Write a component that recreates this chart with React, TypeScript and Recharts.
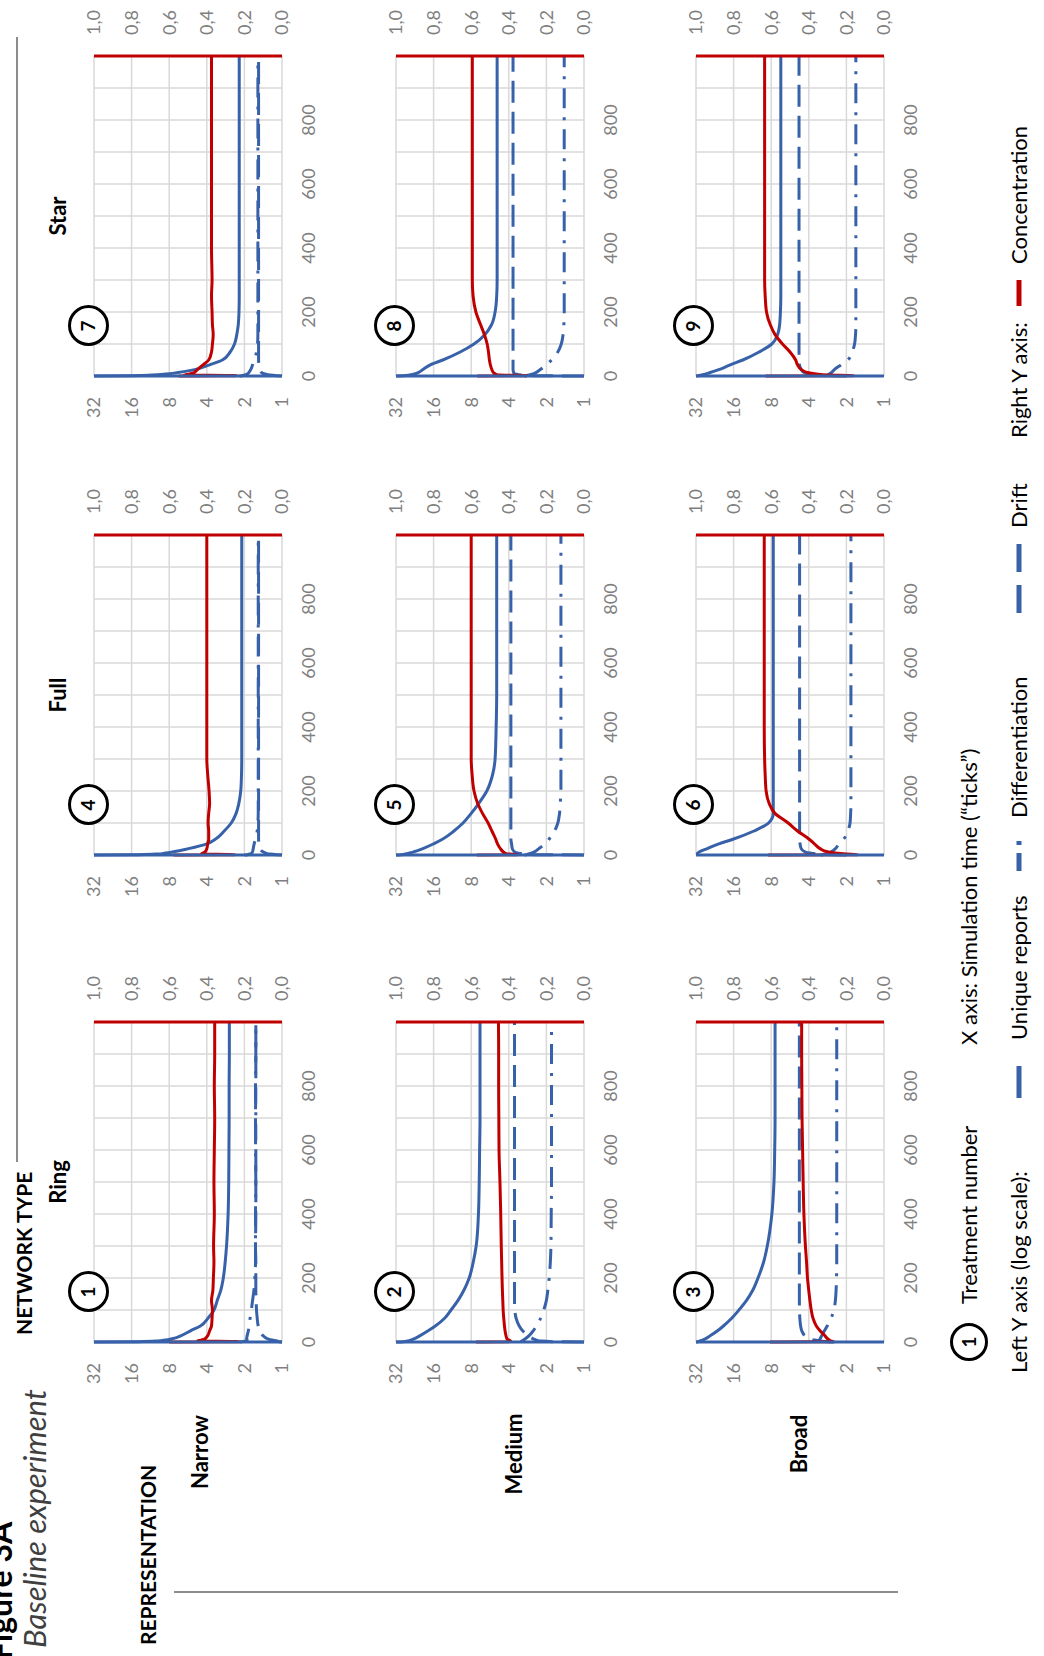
import React from "react";
import { LineChart, Line, XAxis, YAxis, CartesianGrid } from "recharts";

// simulation ticks shared by every panel
const times = [0, 1, 3, 6, 10, 20, 35, 50, 75, 100, 130, 160, 200, 250, 300, 400, 500, 600, 700, 800, 900, 1000];

const xTicks = [0, 100, 200, 300, 400, 500, 600, 700, 800, 900, 1000];
const xLabels = ["0", "", "200", "", "400", "", "600", "", "800", "", ""];
const leftTicks = [1, 2, 4, 8, 16, 32];
const rightTicks = [0, 0.2, 0.4, 0.6, 0.8, 1];
const rightLabels = ["0,0", "0,2", "0,4", "0,6", "0,8", "1,0"];

const networkTypes = ["Ring", "Full", "Star"];
const representations = ["Narrow", "Medium", "Broad"];
const seriesNames = ["Unique reports", "Differentiation", "Drift", "Concentration"];

// 1: Ring / Narrow
const unique1 = [32, 14, 10, 8.6, 7.6, 6.4, 5.4, 4.5, 3.9, 3.5, 3.3, 3.1, 2.95, 2.85, 2.78, 2.7, 2.67, 2.66, 2.65, 2.65, 2.64, 2.64];
const diff1 = [2.2, 2.1, 1.95, 1.9, 1.92, 1.9, 1.86, 1.83, 1.8, 1.76, 1.72, 1.68, 1.65, 1.63, 1.63, 1.63, 1.62, 1.63, 1.62, 1.63, 1.62, 1.62];
const drift1 = [1.0, 1.05, 1.1, 1.2, 1.3, 1.42, 1.5, 1.55, 1.58, 1.6, 1.61, 1.62, 1.62, 1.62, 1.63, 1.62, 1.62, 1.62, 1.63, 1.62, 1.62, 1.62];
const conc1 = [0.6, 0.23, 0.45, 0.43, 0.41, 0.395, 0.385, 0.375, 0.372, 0.37, 0.375, 0.368, 0.365, 0.362, 0.364, 0.36, 0.362, 0.36, 0.358, 0.36, 0.358, 0.358];

// 2: Ring / Medium
const unique2 = [32, 28, 26, 24.5, 23, 20.5, 17.7, 15.5, 13, 11.6, 10.2, 9.2, 8.3, 7.7, 7.3, 7.0, 6.9, 6.85, 6.8, 6.8, 6.8, 6.8];
const diff2 = [3.2, 3.2, 3.15, 3.05, 2.95, 2.75, 2.55, 2.4, 2.22, 2.1, 2.0, 1.95, 1.9, 1.86, 1.84, 1.83, 1.82, 1.82, 1.82, 1.82, 1.82, 1.82];
const drift2 = [1.0, 1.8, 2.2, 2.4, 2.55, 2.8, 3.1, 3.3, 3.5, 3.58, 3.6, 3.6, 3.6, 3.6, 3.6, 3.6, 3.6, 3.6, 3.6, 3.6, 3.6, 3.6];
const conc2 = [0.575, 0.4, 0.39, 0.4, 0.41, 0.415, 0.42, 0.423, 0.427, 0.43, 0.432, 0.434, 0.436, 0.438, 0.44, 0.443, 0.447, 0.452, 0.453, 0.454, 0.454, 0.455];

// 3: Ring / Broad
const unique3 = [32, 31, 30, 28.5, 27, 24.5, 21.5, 19.3, 16.5, 14.5, 12.6, 11.3, 10.2, 9.2, 8.6, 7.9, 7.6, 7.5, 7.45, 7.45, 7.45, 7.45];
const diff3 = [3.4, 3.4, 3.35, 3.3, 3.25, 3.15, 3.0, 2.85, 2.65, 2.52, 2.45, 2.42, 2.4, 2.39, 2.39, 2.39, 2.39, 2.39, 2.39, 2.39, 2.39, 2.39];
const drift3 = [2.5, 2.8, 3.2, 3.6, 3.9, 4.3, 4.55, 4.65, 4.72, 4.75, 4.76, 4.76, 4.76, 4.76, 4.76, 4.76, 4.76, 4.76, 4.76, 4.76, 4.76, 4.76];
const conc3 = [0.606, 0.27, 0.28, 0.29, 0.3, 0.315, 0.34, 0.36, 0.378, 0.387, 0.394, 0.4, 0.407, 0.412, 0.418, 0.426, 0.43, 0.433, 0.436, 0.437, 0.438, 0.438];

// 4: Full / Narrow
const unique4 = [32, 14, 10, 8.6, 7.4, 5.6, 4.0, 3.4, 2.9, 2.55, 2.33, 2.22, 2.14, 2.11, 2.1, 2.1, 2.1, 2.1, 2.1, 2.1, 2.1, 2.1];
const diff4 = [2.0, 1.9, 1.8, 1.75, 1.72, 1.7, 1.67, 1.63, 1.58, 1.56, 1.55, 1.55, 1.55, 1.55, 1.55, 1.55, 1.55, 1.55, 1.55, 1.55, 1.55, 1.55];
const drift4 = [1.0, 1.1, 1.25, 1.35, 1.42, 1.5, 1.53, 1.54, 1.54, 1.54, 1.54, 1.54, 1.54, 1.54, 1.54, 1.54, 1.54, 1.54, 1.54, 1.54, 1.54, 1.54];
const conc4 = [0.577, 0.25, 0.43, 0.42, 0.41, 0.4, 0.395, 0.39, 0.39, 0.393, 0.39, 0.385, 0.388, 0.395, 0.4, 0.4, 0.4, 0.4, 0.4, 0.4, 0.4, 0.4];

// 5: Full / Medium
const unique5 = [32, 29, 27, 25, 23, 19.5, 16, 13.5, 11, 9.3, 8.0, 7.0, 6.0, 5.4, 5.15, 5.05, 5.0, 5.0, 5.0, 5.0, 5.0, 5.0];
const diff5 = [3.0, 2.9, 2.8, 2.65, 2.5, 2.3, 2.05, 1.9, 1.72, 1.62, 1.57, 1.55, 1.53, 1.53, 1.53, 1.53, 1.53, 1.53, 1.53, 1.53, 1.53, 1.53];
const drift5 = [1.0, 2.2, 3.0, 3.4, 3.6, 3.75, 3.8, 3.85, 3.85, 3.85, 3.85, 3.85, 3.85, 3.85, 3.85, 3.85, 3.85, 3.85, 3.85, 3.85, 3.85, 3.85];
const conc5 = [0.57, 0.35, 0.4, 0.42, 0.43, 0.445, 0.46, 0.47, 0.49, 0.51, 0.54, 0.565, 0.585, 0.595, 0.6, 0.6, 0.6, 0.6, 0.6, 0.6, 0.6, 0.6];

// 6: Full / Broad
const unique6 = [32, 32, 31.5, 31, 30, 26, 21, 16, 11, 8.4, 7.7, 7.7, 7.7, 7.7, 7.7, 7.7, 7.7, 7.7, 7.7, 7.7, 7.7, 7.7];
const diff6 = [3.2, 3.1, 2.95, 2.8, 2.65, 2.45, 2.3, 2.1, 1.95, 1.87, 1.85, 1.84, 1.84, 1.84, 1.84, 1.84, 1.84, 1.84, 1.84, 1.84, 1.84, 1.84];
const drift6 = [2.0, 2.6, 3.3, 3.9, 4.3, 4.6, 4.7, 4.74, 4.74, 4.74, 4.74, 4.74, 4.74, 4.74, 4.74, 4.74, 4.74, 4.74, 4.74, 4.74, 4.74, 4.74];
const conc6 = [0.616, 0.14, 0.2, 0.26, 0.3, 0.34, 0.37, 0.4, 0.46, 0.51, 0.58, 0.61, 0.627, 0.632, 0.635, 0.637, 0.637, 0.637, 0.637, 0.637, 0.637, 0.637];

// 7: Star / Narrow
const unique7 = [32, 16, 11, 8.5, 7.0, 5.0, 3.8, 3.0, 2.6, 2.4, 2.3, 2.24, 2.21, 2.2, 2.2, 2.2, 2.2, 2.2, 2.2, 2.2, 2.2, 2.2];
const diff7 = [2.2, 2.1, 2.0, 1.9, 1.85, 1.78, 1.72, 1.66, 1.6, 1.57, 1.56, 1.56, 1.56, 1.56, 1.56, 1.56, 1.56, 1.56, 1.56, 1.56, 1.56, 1.56];
const drift7 = [1.0, 1.1, 1.25, 1.35, 1.45, 1.5, 1.53, 1.54, 1.54, 1.54, 1.54, 1.54, 1.54, 1.54, 1.54, 1.54, 1.54, 1.54, 1.54, 1.54, 1.54, 1.54];
const conc7 = [0.55, 0.24, 0.52, 0.49, 0.47, 0.45, 0.42, 0.39, 0.375, 0.37, 0.366, 0.37, 0.372, 0.375, 0.372, 0.375, 0.375, 0.375, 0.375, 0.375, 0.375, 0.375];

// 8: Star / Medium
const unique8 = [32, 28, 25, 23, 21.5, 19.5, 17, 13.5, 9.8, 7.6, 6.2, 5.5, 5.15, 5.0, 4.96, 4.96, 4.96, 4.96, 4.96, 4.96, 4.96, 4.96];
const diff8 = [3.0, 2.9, 2.75, 2.6, 2.45, 2.24, 2.0, 1.82, 1.62, 1.52, 1.47, 1.45, 1.44, 1.44, 1.44, 1.44, 1.44, 1.44, 1.44, 1.44, 1.44, 1.44];
const drift8 = [1.0, 2.5, 3.2, 3.5, 3.65, 3.7, 3.7, 3.7, 3.7, 3.7, 3.7, 3.7, 3.7, 3.7, 3.7, 3.7, 3.7, 3.7, 3.7, 3.7, 3.7, 3.7];
const conc8 = [0.568, 0.3, 0.45, 0.47, 0.48, 0.49, 0.498, 0.503, 0.508, 0.515, 0.53, 0.55, 0.575, 0.59, 0.594, 0.594, 0.594, 0.594, 0.594, 0.594, 0.594, 0.594];

// 9: Star / Broad
const unique9 = [32, 31, 29, 27, 25, 21, 17, 13.5, 10, 7.9, 7.1, 6.85, 6.75, 6.7, 6.7, 6.7, 6.7, 6.7, 6.7, 6.7, 6.7, 6.7];
const diff9 = [3.0, 2.95, 2.85, 2.75, 2.65, 2.5, 2.2, 1.95, 1.8, 1.72, 1.69, 1.68, 1.68, 1.68, 1.68, 1.68, 1.68, 1.68, 1.68, 1.68, 1.68, 1.68];
const drift9 = [2.0, 2.6, 3.3, 3.9, 4.3, 4.6, 4.75, 4.79, 4.79, 4.79, 4.79, 4.79, 4.79, 4.79, 4.79, 4.79, 4.79, 4.79, 4.79, 4.79, 4.79, 4.79];
const conc9 = [0.63, 0.16, 0.3, 0.36, 0.4, 0.44, 0.46, 0.47, 0.5, 0.54, 0.58, 0.605, 0.625, 0.632, 0.635, 0.635, 0.635, 0.635, 0.635, 0.635, 0.635, 0.635];

const treatments = [
  { n: 1, col: 0, row: 0, unique: unique1, diff: diff1, drift: drift1, conc: conc1 },
  { n: 2, col: 0, row: 1, unique: unique2, diff: diff2, drift: drift2, conc: conc2 },
  { n: 3, col: 0, row: 2, unique: unique3, diff: diff3, drift: drift3, conc: conc3 },
  { n: 4, col: 1, row: 0, unique: unique4, diff: diff4, drift: drift4, conc: conc4 },
  { n: 5, col: 1, row: 1, unique: unique5, diff: diff5, drift: drift5, conc: conc5 },
  { n: 6, col: 1, row: 2, unique: unique6, diff: diff6, drift: drift6, conc: conc6 },
  { n: 7, col: 2, row: 0, unique: unique7, diff: diff7, drift: drift7, conc: conc7 },
  { n: 8, col: 2, row: 1, unique: unique8, diff: diff8, drift: drift8, conc: conc8 },
  { n: 9, col: 2, row: 2, unique: unique9, diff: diff9, drift: drift9, conc: conc9 },
];

const BLUE = "#3761A8";
const RED = "#C00000";
const GRID = "#D9D9D9";
const FONT = "Lato, 'Open Sans', sans-serif";

// layout of the landscape sheet (it is turned a quarter to the left afterwards)
const colLeft = [314, 801, 1280];
const rowTop = [94, 396, 696];
const circleY = [88, 394, 693];
const rowLabelX = [204, 202, 212];
const PLOT_W = 320;
const PLOT_H = 188;
const PAD = 16;

const tickStyle = { fill: "#7F7F7F", fontSize: 18, fontFamily: FONT };

const Circle = ({ n, x, y, d = 41 }: { n: number; x: number; y: number; d?: number }) => (
  <div
    style={{
      position: "absolute",
      left: x - d / 2,
      top: y - d / 2,
      width: d,
      height: d,
      boxSizing: "border-box",
      border: "3px solid #000",
      borderRadius: "50%",
      background: "#fff",
      display: "flex",
      alignItems: "center",
      justifyContent: "center",
      fontWeight: 700,
      fontSize: 19,
      lineHeight: "24px",
    }}
  >
    {n}
  </div>
);

const Txt = ({ x, y, center, style, children }: any) => (
  <div
    style={{
      position: "absolute",
      left: x,
      top: y,
      transform: center ? "translate(-50%, -50%)" : "translateY(-50%)",
      whiteSpace: "nowrap",
      lineHeight: 1.3,
      ...style,
    }}
  >
    {children}
  </div>
);

function Panel({ t }: { t: (typeof treatments)[number] }) {
  const data = times.map((x, i) => ({
    t: x,
    unique: t.unique[i],
    diff: t.diff[i],
    drift: t.drift[i],
    conc: t.conc[i],
  }));
  const left = colLeft[t.col];
  const top = rowTop[t.row];
  return (
    <>
      <div style={{ position: "absolute", left: left - 60, top: top - PAD }}>
        <LineChart width={PLOT_W + 120} height={PLOT_H + PAD + 56} data={data} margin={{ top: PAD, right: 10, bottom: 4, left: 10 }}>
          <CartesianGrid yAxisId="left" stroke={GRID} strokeWidth={1.5} />
          <XAxis
            dataKey="t"
            type="number"
            domain={[0, 1000]}
            ticks={xTicks}
            interval={0}
            tickFormatter={(v: number) => xLabels[xTicks.indexOf(v)] ?? ""}
            axisLine={false}
            tickLine={false}
            tickSize={0}
            tickMargin={20}
            height={52}
            tick={tickStyle}
          />
          <YAxis
            yAxisId="left"
            type="number"
            scale="log"
            domain={[1, 32]}
            allowDataOverflow
            ticks={leftTicks}
            interval={0}
            width={50}
            axisLine={{ stroke: BLUE, strokeWidth: 3 }}
            tickLine={false}
            tickSize={0}
            tickMargin={21}
            tick={tickStyle}
          />
          <YAxis
            yAxisId="right"
            orientation="right"
            type="number"
            domain={[0, 1]}
            ticks={rightTicks}
            interval={0}
            tickFormatter={(v: number) => rightLabels[rightTicks.indexOf(v)] ?? ""}
            width={50}
            axisLine={{ stroke: RED, strokeWidth: 3 }}
            tickLine={false}
            tickSize={0}
            tickMargin={21}
            tick={tickStyle}
          />
          <Line yAxisId="left" type="monotone" dataKey="drift" name={seriesNames[2]} stroke={BLUE} strokeWidth={3} strokeDasharray="22 9" dot={false} isAnimationActive={false} />
          <Line yAxisId="left" type="monotone" dataKey="diff" name={seriesNames[1]} stroke={BLUE} strokeWidth={3} strokeDasharray="20 9 3 9" dot={false} isAnimationActive={false} />
          <Line yAxisId="left" type="monotone" dataKey="unique" name={seriesNames[0]} stroke={BLUE} strokeWidth={3} dot={false} isAnimationActive={false} />
          <Line yAxisId="right" type="monotone" dataKey="conc" name={seriesNames[3]} stroke={RED} strokeWidth={3} dot={false} isAnimationActive={false} />
        </LineChart>
      </div>
      <Circle n={t.n} x={left + 50} y={circleY[t.row]} />
    </>
  );
}

const Swatch = ({ x, y, w, kind }: { x: number; y: number; w: number; kind: string }) => (
  <svg style={{ position: "absolute", left: x, top: y - 5 }} width={w} height={10}>
    {kind === "solid" && <line x1={0} x2={w} y1={5} y2={5} stroke={BLUE} strokeWidth={5} />}
    {kind === "red" && <line x1={0} x2={w} y1={5} y2={5} stroke={RED} strokeWidth={5} />}
    {kind === "dashdot" && (
      <>
        <line x1={0} x2={18} y1={5} y2={5} stroke={BLUE} strokeWidth={5} />
        <line x1={26} x2={30} y1={5} y2={5} stroke={BLUE} strokeWidth={5} />
      </>
    )}
    {kind === "dash" && (
      <>
        <line x1={0} x2={28} y1={5} y2={5} stroke={BLUE} strokeWidth={5} />
        <line x1={w - 28} x2={w} y1={5} y2={5} stroke={BLUE} strokeWidth={5} />
      </>
    )}
  </svg>
);

export default function App() {
  const legendFont = { fontSize: 22, color: "#000" };
  const headFont = { fontSize: 22, fontWeight: 700, color: "#000" };
  return (
    <div style={{ position: "absolute", left: 0, top: 0, width: 1044, height: 1656, overflow: "hidden", background: "#fff" }}>
      <div
        style={{
          position: "absolute",
          left: 0,
          top: 0,
          width: 1656,
          height: 1044,
          transformOrigin: "0 0",
          transform: "translateY(1656px) rotate(-90deg)",
          fontFamily: FONT,
        }}
      >
        <div style={{ position: "absolute", left: -4, top: -16, fontSize: 32, fontWeight: 700, lineHeight: "32px", whiteSpace: "nowrap" }}>
          Figure 3A
        </div>
        <Txt x={8} y={34} style={{ fontSize: 31, fontStyle: "italic", color: "#404040" }}>
          Baseline experiment
        </Txt>

        <Txt x={321} y={24} style={{ ...headFont, fontSize: 21 }}>NETWORK TYPE</Txt>
        <div style={{ position: "absolute", left: 494, top: 16, width: 1125, height: 1.5, background: "#8C8C8C" }} />
        {networkTypes.map((name, i) => (
          <Txt key={name} x={colLeft[i] + PLOT_W / 2} y={58} center style={headFont}>{name}</Txt>
        ))}

        <Txt x={101} y={148} center style={{ ...headFont, fontSize: 21 }}>REPRESENTATION</Txt>
        <div style={{ position: "absolute", left: 63, top: 174, width: 1.5, height: 724, background: "#8C8C8C" }} />
        {representations.map((name, i) => (
          <Txt key={name} x={rowLabelX[i]} y={[200, 514, 799][i]} center style={headFont}>{name}</Txt>
        ))}

        {treatments.map((t) => (
          <Panel key={t.n} t={t} />
        ))}

        {/* legend */}
        <Circle n={1} x={314} y={969} d={38} />
        <Txt x={352} y={969} style={legendFont}>Treatment number</Txt>
        <Txt x={611} y={969} style={legendFont}>X axis: Simulation time (“ticks”)</Txt>

        <Txt x={283} y={1019} style={legendFont}>Left Y axis (log scale):</Txt>
        <Swatch x={558} y={1019} w={32} kind="solid" />
        <Txt x={616} y={1019} style={legendFont}>{seriesNames[0]}</Txt>
        <Swatch x={785} y={1019} w={32} kind="dashdot" />
        <Txt x={838} y={1019} style={legendFont}>{seriesNames[1]}</Txt>
        <Swatch x={1043} y={1019} w={69} kind="dash" />
        <Txt x={1128} y={1019} style={legendFont}>{seriesNames[2]}</Txt>
        <Txt x={1218} y={1019} style={legendFont}>Right Y axis:</Txt>
        <Swatch x={1350} y={1019} w={26} kind="red" />
        <Txt x={1392} y={1019} style={legendFont}>{seriesNames[3]}</Txt>
      </div>
    </div>
  );
}
